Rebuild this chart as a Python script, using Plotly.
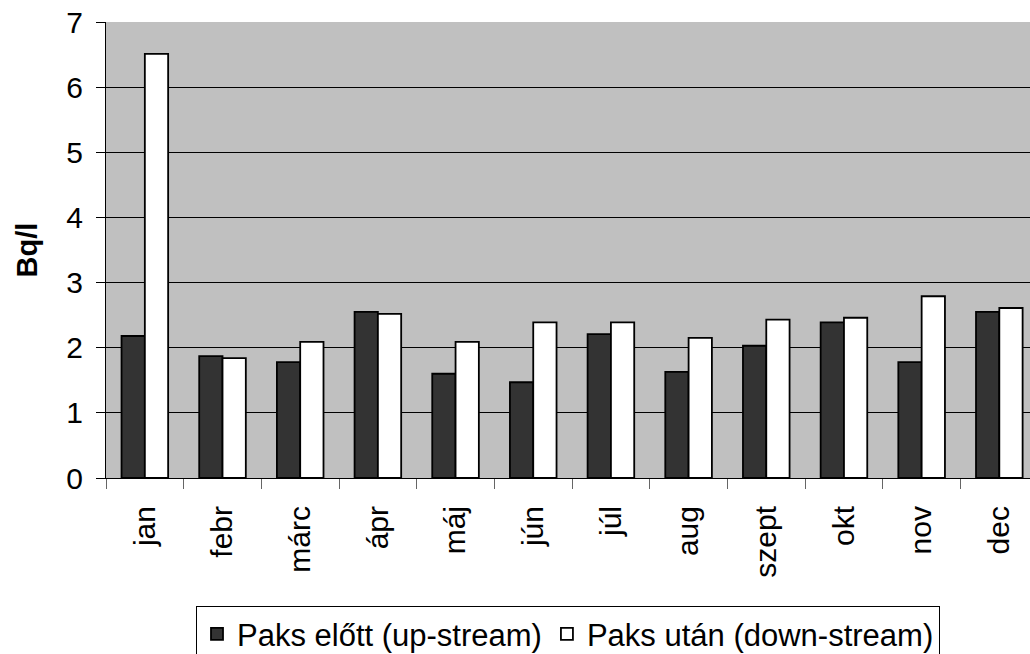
import plotly.graph_objects as go

months = ["jan", "febr", "márc", "ápr", "máj", "jún", "júl", "aug", "szept", "okt", "nov", "dec"]
upstream = [2.18, 1.87, 1.78, 2.55, 1.60, 1.47, 2.21, 1.63, 2.03, 2.39, 1.78, 2.55]
downstream = [6.51, 1.84, 2.09, 2.52, 2.09, 2.39, 2.39, 2.15, 2.43, 2.46, 2.79, 2.61]
name_up = "Paks előtt (up-stream)"
name_down = "Paks után (down-stream)"

fig = go.Figure()
fig.add_trace(go.Bar(x=months, y=upstream, name=name_up,
                     marker=dict(color="#333333", line=dict(color="black", width=1.8))))
fig.add_trace(go.Bar(x=months, y=downstream, name=name_down,
                     marker=dict(color="white", line=dict(color="black", width=1.8))))

fig.update_layout(
    width=1030, height=654,
    margin=dict(l=106, r=0, t=22, b=176, autoexpand=False),
    paper_bgcolor="white", plot_bgcolor="#c0c0c0",
    barmode="group", bargap=0.4, bargroupgap=0.0,
    font=dict(family="Liberation Sans, Arial, sans-serif", color="black", size=30),
    showlegend=True,
    legend=dict(orientation="h", x=0.5, xanchor="center", y=-0.281, yanchor="top",
                bgcolor="white", bordercolor="black", borderwidth=1,
                font=dict(family="Liberation Sans, Arial, sans-serif", size=31),
                itemwidth=30, traceorder="normal"),
)
fig.update_xaxes(
    range=[-0.5, 11.395], tickangle=-90, tickson="boundaries", ticks="outside",
    ticklen=10, tickcolor="#666666", showline=True, linecolor="black", linewidth=1,
    tickfont=dict(size=30), showgrid=False, ticklabelstandoff=15, automargin=False,
)
fig.update_yaxes(
    range=[0, 7], dtick=1, ticks="outside", ticklen=9, tickcolor="black",
    showline=True, linecolor="black", linewidth=1,
    showgrid=True, gridcolor="black", gridwidth=1, zeroline=False,
    tickfont=dict(size=30), ticklabelstandoff=7, automargin=False,
    title=dict(text="<b>Bq/l</b>", font=dict(size=29), standoff=20),
)

fig.write_html("out.html", config={"displayModeBar": False},
               post_script="document.body.style.margin='0';")
